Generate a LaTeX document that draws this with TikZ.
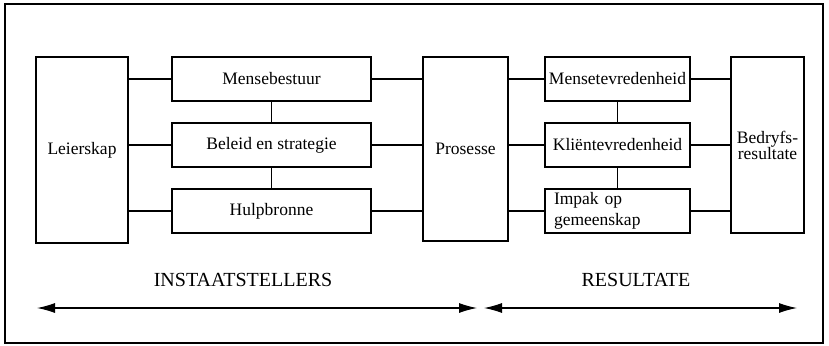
\documentclass[tikz,border=0pt]{standalone}
\usepackage{fontspec}
\setmainfont{Liberation Serif}
\usetikzlibrary{arrows.meta}
\begin{document}
\begin{tikzpicture}[x=1pt,y=-1pt,
  box/.style={draw,line width=1.2pt,inner sep=0pt,outer sep=0pt,
    font=\fontsize{17.5}{16}\selectfont,align=center},
  link/.style={line width=1.1pt},
  band/.style={font=\fontsize{20}{24}\selectfont},
  span/.style={line width=1.1pt,{Latex[length=18pt,width=10pt]}-{Latex[length=18pt,width=10pt]}}]
\useasboundingbox (0,0) rectangle (829,345);
% outer frame
\draw[line width=1.2pt] (5,4) rectangle (823,343);

% enablers
\node[box,minimum width=92,minimum height=186] (leier) at (82,150) {Leierskap};
\node[box,minimum width=199,minimum height=44] (mense) at (271.5,79) {Mensebestuur};
\node[box,minimum width=199,minimum height=44] (beleid) at (271.5,145) {Beleid en strategie};
\node[box,minimum width=199,minimum height=44] (hulp) at (271.5,211) {Hulpbronne};
\node[box,minimum width=85,minimum height=184] (pros) at (465.5,149) {Prosesse};

% results
\node[box,minimum width=145,minimum height=44] (tevr) at (617.5,79) {Mensetevredenheid};
\node[box,minimum width=145,minimum height=44] (klient) at (617.5,145) {Kliëntevredenheid};
\node[box,minimum width=145,minimum height=44,text width=127,inner xsep=9pt,
  align=left,font=\fontsize{17.5}{21}\selectfont] (impak) at (617.5,211) {Impak op\\gemeenskap};
\node[box,minimum width=73,minimum height=176] (bedr) at (767.5,145) {Bedryfs-\\resultate};

% horizontal links
\foreach \n in {mense,beleid,hulp}{
  \draw[link] (\n.west) -- (\n.west -| leier.east);
  \draw[link] (\n.east) -- (\n.east -| pros.west);
}
\foreach \n in {tevr,klient,impak}{
  \draw[link] (\n.west) -- (\n.west -| pros.east);
  \draw[link] (\n.east) -- (\n.east -| bedr.west);
}
% vertical links
\draw[link] (mense.south) -- (beleid.north);
\draw[link] (beleid.south) -- (hulp.north);
\draw[link] (tevr.south) -- (klient.north);
\draw[link] (klient.south) -- (impak.north);

% section labels and spans
\node[band] (inst) at (243,280) {INSTAATSTELLERS};
\node[band] (res) at (636,280) {RESULTATE};
\coordinate (a1) at (37,308);
\coordinate (a2) at (477,308);
\coordinate (b1) at (484,308);
\coordinate (b2) at (797,308);
\draw[span] (a1) -- (a2);
\draw[span] (b1) -- (b2);
\end{tikzpicture}
\end{document}
